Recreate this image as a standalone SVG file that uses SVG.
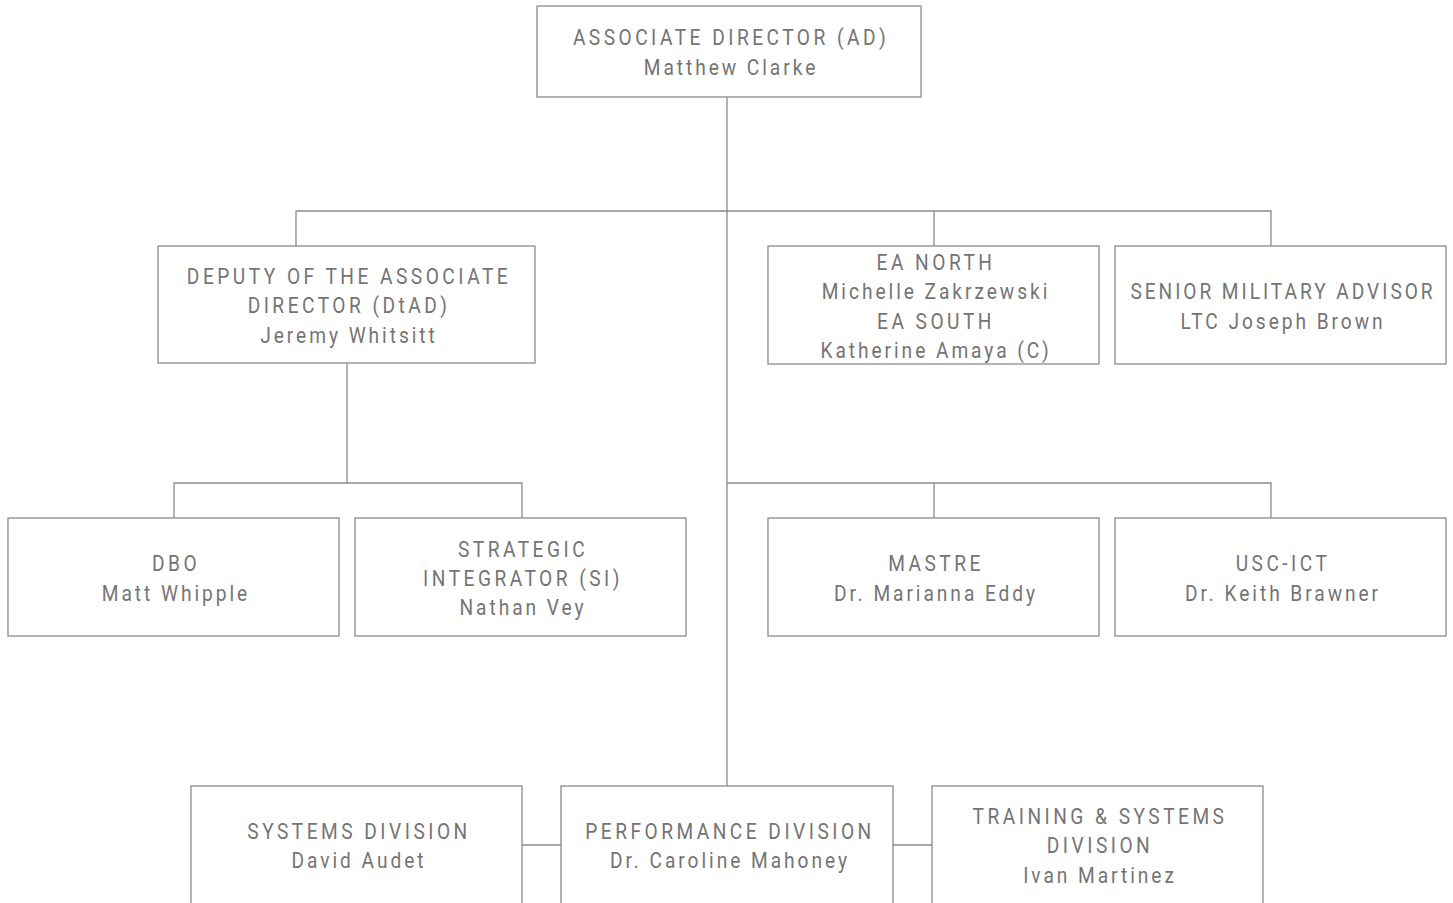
<svg xmlns="http://www.w3.org/2000/svg" width="1453" height="903" viewBox="0 0 1453 903">
<style>
.box{fill:#fff;stroke:#8a8a8a;stroke-width:1.3}
.t{font-family:Roboto,"Liberation Sans",sans-serif;font-size:22px;fill:#747474;text-anchor:middle;letter-spacing:4px}
.n{letter-spacing:3.4px}
.c{fill:none;stroke:#8a8a8a;stroke-width:1.3}
</style>
<rect width="1453" height="903" fill="#fff"/>
<g id="connectors" class="c">
<path d="M727 97V786"/>
<path d="M296 246V211H1271V246M934 211V246"/>
<path d="M347 363V483M174 518V483H522V518"/>
<path d="M727 483H1271V518M934 483V518"/>
<path d="M522 845H561M893 845H932"/>
</g>
<g id="ad"><rect class="box" x="537" y="6" width="384" height="91"/>
<g transform="translate(731,0) scale(0.87,1)"><text class="t" x="0" y="45">ASSOCIATE DIRECTOR (AD)</text><text class="t n" x="0" y="75">Matthew Clarke</text></g></g>
<g id="dtad"><rect class="box" x="158" y="246" width="377" height="117"/>
<g transform="translate(349,0) scale(0.87,1)"><text class="t" x="0" y="284">DEPUTY OF THE ASSOCIATE</text><text class="t" x="0" y="313">DIRECTOR (DtAD)</text><text class="t n" x="0" y="343">Jeremy Whitsitt</text></g></g>
<g id="ea"><rect class="box" x="768" y="246" width="331" height="118"/>
<g transform="translate(936,0) scale(0.87,1)"><text class="t" x="0" y="270">EA NORTH</text><text class="t n" x="0" y="299">Michelle Zakrzewski</text><text class="t" x="0" y="329">EA SOUTH</text><text class="t n" x="0" y="358">Katherine Amaya (C)</text></g></g>
<g id="sma"><rect class="box" x="1115" y="246" width="331" height="118"/>
<g transform="translate(1283,0) scale(0.87,1)"><text class="t n" x="0" y="299">SENIOR MILITARY ADVISOR</text><text class="t n" x="0" y="329">LTC Joseph Brown</text></g></g>
<g id="dbo"><rect class="box" x="8" y="518" width="331" height="118"/>
<g transform="translate(176,0) scale(0.87,1)"><text class="t" x="0" y="571">DBO</text><text class="t n" x="0" y="601">Matt Whipple</text></g></g>
<g id="si"><rect class="box" x="355" y="518" width="331" height="118"/>
<g transform="translate(523,0) scale(0.87,1)"><text class="t" x="0" y="557">STRATEGIC</text><text class="t" x="0" y="586">INTEGRATOR (SI)</text><text class="t n" x="0" y="615">Nathan Vey</text></g></g>
<g id="mastre"><rect class="box" x="768" y="518" width="331" height="118"/>
<g transform="translate(936,0) scale(0.87,1)"><text class="t" x="0" y="571">MASTRE</text><text class="t n" x="0" y="601">Dr. Marianna Eddy</text></g></g>
<g id="usc"><rect class="box" x="1115" y="518" width="331" height="118"/>
<g transform="translate(1283,0) scale(0.87,1)"><text class="t" x="0" y="571">USC-ICT</text><text class="t n" x="0" y="601">Dr. Keith Brawner</text></g></g>
<g id="sys"><rect class="box" x="191" y="786" width="331" height="130"/>
<g transform="translate(359,0) scale(0.87,1)"><text class="t" x="0" y="839">SYSTEMS DIVISION</text><text class="t n" x="0" y="868">David Audet</text></g></g>
<g id="perf"><rect class="box" x="561" y="786" width="332" height="130"/>
<g transform="translate(730,0) scale(0.87,1)"><text class="t" x="0" y="839">PERFORMANCE DIVISION</text><text class="t n" x="0" y="868">Dr. Caroline Mahoney</text></g></g>
<g id="train"><rect class="box" x="932" y="786" width="331" height="130"/>
<g transform="translate(1100,0) scale(0.87,1)"><text class="t" x="0" y="824">TRAINING &amp; SYSTEMS</text><text class="t" x="0" y="853">DIVISION</text><text class="t n" x="0" y="883">Ivan Martinez</text></g></g>
</svg>
